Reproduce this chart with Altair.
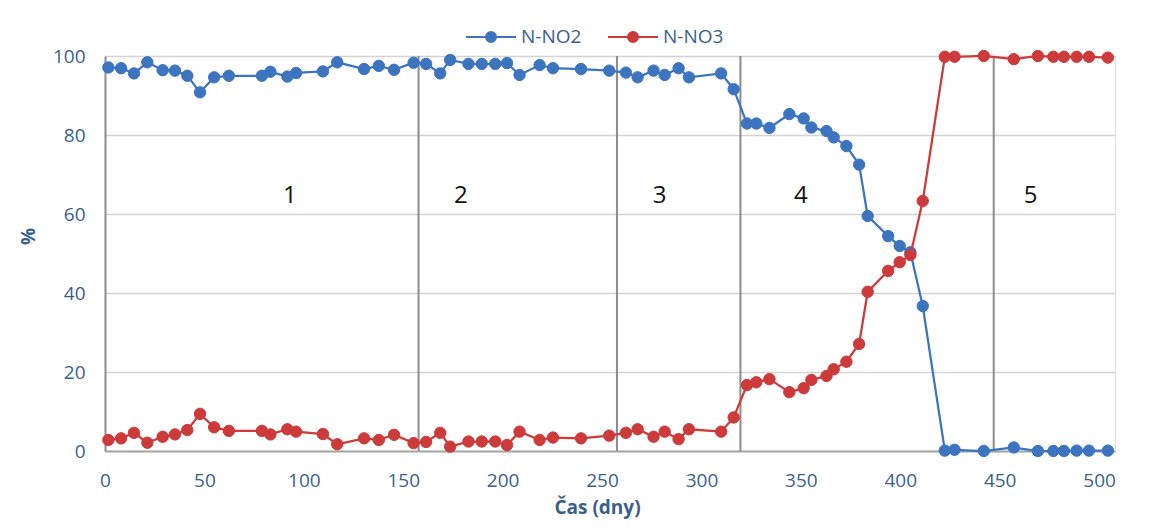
import altair as alt
import pandas as pd

# ---- data ----
days = [1.7, 8.1, 14.6, 21.3, 29, 35.2, 41.4, 47.8, 54.9, 62.3, 78.9, 83.2, 91.7, 96.1,
        109.6, 116.8, 130.3, 137.7, 145.4, 155.2, 161.5,
        168.6, 173.6, 182.8, 189.5, 196.3, 202.2, 208.5, 218.6, 225.3, 239.4, 253.6,
        262, 267.9, 275.9, 281.5, 288.5, 293.7, 309.9, 316.2,
        322.9, 327.6, 334.2, 344.2, 351.4, 355.3, 362.9, 366.5, 372.9, 379.3, 383.6,
        393.9, 399.7, 405.1, 411.3, 422.4, 427.3, 442, 457.1, 469.2, 477, 482.3,
        488.7, 494.9, 504.4]

n_no2 = [97.1, 96.9, 95.6, 98.4, 96.4, 96.3, 95.0, 90.8, 94.6, 95.0, 95.0, 96.0, 94.8, 95.7,
         96.1, 98.4, 96.7, 97.5, 96.5, 98.3, 98.0,
         95.6, 99.0, 98.0, 98.0, 98.0, 98.2, 95.2, 97.7, 96.9, 96.7, 96.3,
         95.8, 94.6, 96.3, 95.2, 96.9, 94.6, 95.6, 91.6,
         82.9, 82.9, 81.8, 85.3, 84.2, 81.9, 81.0, 79.4, 77.2, 72.5, 59.5,
         54.4, 51.9, 50.3, 36.7, 0.1, 0.3, 0.0, 0.9, 0.0, 0.0, 0.0,
         0.1, 0.1, 0.1]

n_no3 = [2.8, 3.2, 4.6, 2.1, 3.6, 4.2, 5.3, 9.4, 6.0, 5.1, 5.1, 4.2, 5.5, 4.9,
         4.3, 1.7, 3.2, 2.8, 4.1, 2.0, 2.3,
         4.6, 1.1, 2.4, 2.4, 2.4, 1.5, 4.9, 2.8, 3.4, 3.2, 3.9,
         4.6, 5.5, 3.6, 4.9, 3.0, 5.5, 4.9, 8.5,
         16.7, 17.4, 18.2, 14.9, 15.9, 18.0, 19.0, 20.7, 22.6, 27.1, 40.3,
         45.6, 47.8, 49.6, 63.3, 99.8, 99.8, 100.0, 99.2, 100.0, 99.8, 99.8,
         99.8, 99.8, 99.6]

series_names = ["N-NO2", "N-NO3"]
series_colors = ["#3C74C0", "#CC3A3A"]

phase_bounds = [157.7, 257.5, 319.6, 447]
phase_labels = ["1", "2", "3", "4", "5"]
phase_label_x = [93, 179, 279, 350, 465.5]
phase_label_y = [64.5, 64.5, 64.5, 64.5, 64.5]

x_ticks = [0, 50, 100, 150, 200, 250, 300, 350, 400, 450, 500]
y_ticks = [0, 20, 40, 60, 80, 100]

# ---- tables ----
n = len(days)
df = pd.DataFrame({
    "day": days + days,
    "value": n_no2 + n_no3,
    "series": [series_names[0]] * n + [series_names[1]] * n,
})
bounds_df = pd.DataFrame({"day": phase_bounds})
labels_df = pd.DataFrame({"day": phase_label_x, "value": phase_label_y, "label": phase_labels})

FONT = "Open Sans"
LABEL_COLOR = "#3A5F8F"

x_enc = alt.X(
    "day:Q",
    scale=alt.Scale(domain=[0, 508], nice=False, zero=False),
    axis=alt.Axis(
        values=x_ticks, title="Čas (dny)", grid=False, ticks=False, labelFlush=False,
        labelFontSize=19, labelFont=FONT, labelColor=LABEL_COLOR, labelPadding=20,
        domainColor="#A6A6A6", domainWidth=2,
        titleFont=FONT, titleFontSize=19, titleFontWeight="bold", titleColor=LABEL_COLOR,
        titleX=492, titleY=62, titleBaseline="alphabetic",
    ),
)
y_enc = alt.Y(
    "value:Q",
    scale=alt.Scale(domain=[0, 100], nice=False),
    axis=alt.Axis(
        values=y_ticks, title="%", grid=True, gridColor="#D3D3D3", gridWidth=1.5,
        ticks=False, labelFontSize=19, labelFont=FONT, labelColor=LABEL_COLOR,
        labelPadding=20, domainColor="#8C8C8C", domainWidth=2, labelFlush=False,
        titleFont=FONT, titleFontSize=19, titleFontWeight="bold", titleColor=LABEL_COLOR,
        titleX=-77, titleY=180, titleAngle=-90, titleBaseline="middle",
    ),
)

color_scale = alt.Scale(domain=series_names, range=series_colors)

legend_symbol = "M-1,0L-0.2,0M0.2,0L1,0M-0.2,0A0.2,0.2,0,1,1,0.2,0A0.2,0.2,0,1,1,-0.2,0Z"
leg = alt.Legend(
    title=None, orient="none", legendX=360, legendY=-45, direction="horizontal",
    symbolType=legend_symbol, symbolSize=2500, symbolStrokeWidth=2,
    labelFont=FONT, labelFontSize=19, labelColor=LABEL_COLOR, labelOffset=4,
    columnPadding=22, padding=0,
)

base = alt.Chart(df)

rules = alt.Chart(bounds_df).mark_rule(color="#8C8C8C", strokeWidth=2).encode(x=alt.X("day:Q"))
texts = alt.Chart(labels_df).mark_text(fontSize=24, font=FONT, color="#111111").encode(
    x=alt.X("day:Q"), y=alt.Y("value:Q"), text="label:N"
)

layers = [rules, texts]
for i, name in enumerate(series_names):
    sub = base.transform_filter(alt.datum.series == name)
    line = sub.mark_line(strokeWidth=2.25).encode(
        x=x_enc, y=y_enc,
        stroke=alt.Stroke("series:N", scale=color_scale, legend=leg),
    )
    pts = sub.mark_point(filled=True, size=130, opacity=1, strokeWidth=1).encode(
        x=x_enc, y=y_enc,
        fill=alt.Fill("series:N", scale=color_scale, legend=leg),
        stroke=alt.Stroke("series:N", scale=color_scale, legend=leg),
    )
    layers += [line, pts]

chart = alt.layer(*layers).properties(
    width=1010, height=395,
    autosize=alt.AutoSizeParams(type="none"),
    padding={"left": 97, "top": 48, "right": 33, "bottom": 68},
).configure_view(stroke=None).configure(background="white")

chart.save("out.html", embed_options={"renderer": "svg", "actions": False})
